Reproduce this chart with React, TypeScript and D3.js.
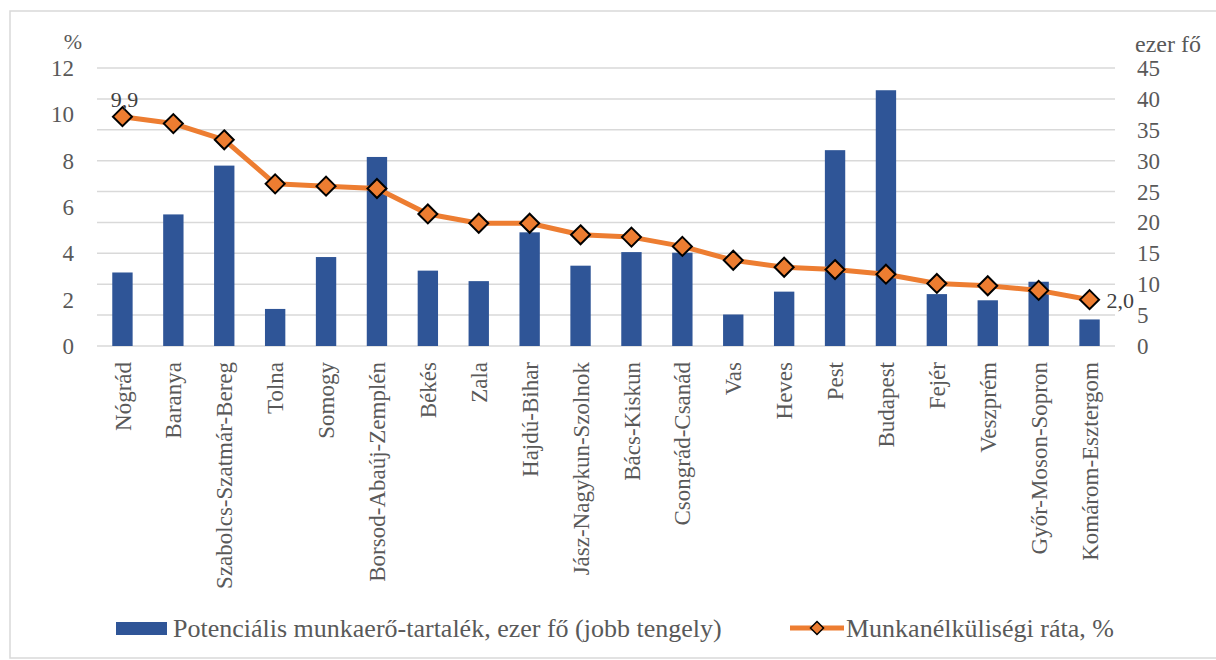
import React from "react";
import * as d3 from "d3";

const categories = [
  "Nógrád", "Baranya", "Szabolcs-Szatmár-Bereg", "Tolna", "Somogy",
  "Borsod-Abaúj-Zemplén", "Békés", "Zala", "Hajdú-Bihar", "Jász-Nagykun-Szolnok",
  "Bács-Kiskun", "Csongrád-Csanád", "Vas", "Heves", "Pest", "Budapest",
  "Fejér", "Veszprém", "Győr-Moson-Sopron", "Komárom-Esztergom",
];
// Potenciális munkaerő-tartalék, ezer fő (right axis)
const reserveValues = [
  11.9, 21.3, 29.2, 6.0, 14.4, 30.6, 12.2, 10.5, 18.4, 13.0,
  15.2, 15.1, 5.1, 8.8, 31.7, 41.4, 8.4, 7.4, 10.4, 4.3,
];
// Munkanélküliségi ráta, % (left axis)
const rateValues = [
  9.9, 9.6, 8.9, 7.0, 6.9, 6.8, 5.7, 5.3, 5.3, 4.8,
  4.7, 4.3, 3.7, 3.4, 3.3, 3.1, 2.7, 2.6, 2.4, 2.0,
];
const leftTicks = [0, 2, 4, 6, 8, 10, 12];
const rightTicks = [0, 5, 10, 15, 20, 25, 30, 35, 40, 45];
const labelIdx = [0, 19];
const seriesNames = [
  "Potenciális munkaerő-tartalék, ezer fő (jobb tengely)",
  "Munkanélküliségi ráta, %",
];

const W = 1216;
const H = 660;
const FONT = "Liberation Serif, DejaVu Serif, serif";
const BLUE = "#2F5597";
const ORANGE = "#ED7D31";
const GRID = "#D9D9D9";
const TXT = "#595959";

export default function App() {
  const x = d3.scaleBand<string>().domain(categories).range([97, 1115]).paddingInner(0.6).paddingOuter(0.3);
  const yL = d3.scaleLinear().domain([0, 12]).range([346, 68]);
  const yR = d3.scaleLinear().domain([0, 45]).range([346, 68]);
  const cx = (c: string) => (x(c) as number) + x.bandwidth() / 2;
  const line = d3
    .line<number>()
    .x((_, i) => cx(categories[i]))
    .y((d) => yL(d));
  const diamond = (px: number, py: number, r: number) =>
    `M${px},${py - r}L${px + r},${py}L${px},${py + r}L${px - r},${py}Z`;

  return (
    <svg width={W} height={H} style={{ position: "absolute", left: 0, top: 0, display: "block", background: "#fff", fontFamily: FONT }}>
      <rect x={10} y={11} width={1215} height={647} fill="#fff" stroke={GRID} strokeWidth={1.5} />
      {/* gridlines */}
      {rightTicks.map((t) => (
        <line key={t} x1={97} x2={1115} y1={yR(t)} y2={yR(t)} stroke={GRID} strokeWidth={1.5} />
      ))}
      {/* bars */}
      {categories.map((c, i) => (
        <rect key={c} x={x(c)} y={yR(reserveValues[i])} width={x.bandwidth()} height={yR(0) - yR(reserveValues[i])} fill={BLUE} />
      ))}
      {/* line */}
      <path d={line(rateValues) || ""} fill="none" stroke={ORANGE} strokeWidth={5} strokeLinejoin="round" />
      {rateValues.map((v, i) => (
        <path key={i} d={diamond(cx(categories[i]), yL(v), 9.5)} fill={ORANGE} stroke="#000" strokeWidth={2} />
      ))}
      {/* data labels */}
      <text x={cx(categories[labelIdx[0]]) + 2} y={yL(rateValues[labelIdx[0]]) - 10} textAnchor="middle" fontSize={22} fill="#404040">
        {rateValues[labelIdx[0]].toFixed(1).replace(".", ",")}
      </text>
      <text x={cx(categories[labelIdx[1]]) + 17} y={yL(rateValues[labelIdx[1]]) + 8} textAnchor="start" fontSize={22} fill="#404040">
        {rateValues[labelIdx[1]].toFixed(1).replace(".", ",")}
      </text>
      {/* left axis */}
      {leftTicks.map((t) => (
        <text key={t} x={74} y={yL(t)} dy="0.35em" textAnchor="end" fontSize={23} fill={TXT}>
          {t}
        </text>
      ))}
      <text x={82} y={49} textAnchor="end" fontSize={22} fill={TXT}>%</text>
      {/* right axis */}
      {rightTicks.map((t) => (
        <text key={t} x={1137} y={yR(t)} dy="0.35em" textAnchor="start" fontSize={23} fill={TXT}>
          {t}
        </text>
      ))}
      <text x={1135} y={52} textAnchor="start" fontSize={24} fill={TXT}>ezer fő</text>
      {/* category labels */}
      {categories.map((c) => (
        <text key={c} transform={`translate(${cx(c)},362) rotate(-90)`} dy="0.35em" textAnchor="end" fontSize={23} fill={TXT}>
          {c}
        </text>
      ))}
      {/* legend */}
      <rect x={116} y={622} width={51} height={13} fill={BLUE} />
      <text x={173} y={637} fontSize={26} fill={TXT}>{seriesNames[0]}</text>
      <line x1={790} x2={844} y1={628} y2={628} stroke={ORANGE} strokeWidth={5} />
      <path d={diamond(817, 628, 6.5)} fill={ORANGE} stroke="#000" strokeWidth={1.5} />
      <text x={846} y={637} fontSize={26} fill={TXT}>{seriesNames[1]}</text>
    </svg>
  );
}
